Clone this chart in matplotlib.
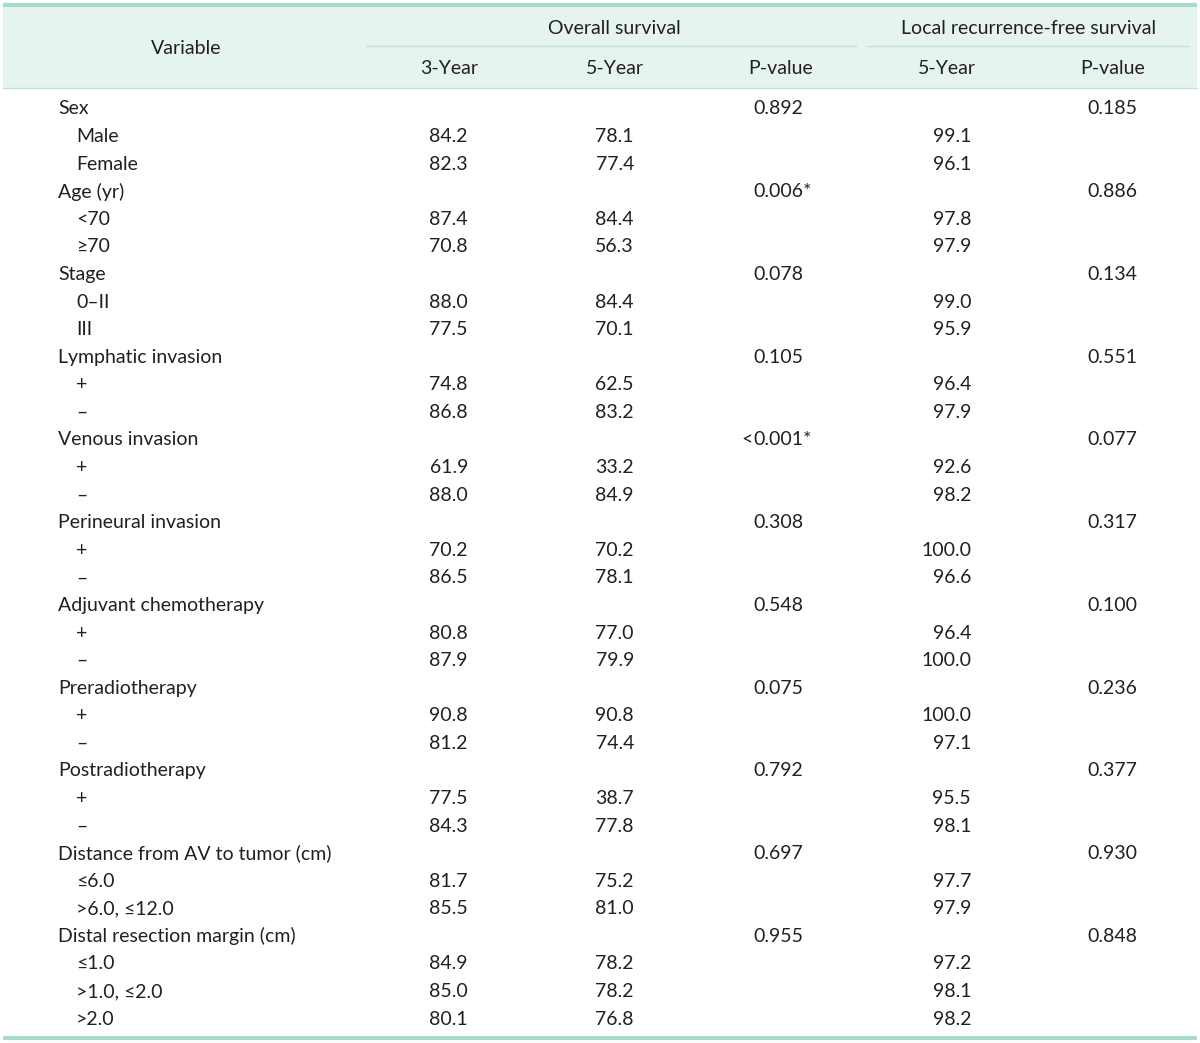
import matplotlib.pyplot as plt

plt.rcParams['font.family'] = ['Lato', 'DejaVu Sans']

# rows: (label, indent level)
labels = ["Sex", "Male", "Female", "Age (yr)", "<70", "\u226570", "Stage", "0\u2013II", "III",
          "Lymphatic invasion", "+", "\u2013", "Venous invasion", "+", "\u2013",
          "Perineural invasion", "+", "\u2013", "Adjuvant chemotherapy", "+", "\u2013",
          "Preradiotherapy", "+", "\u2013", "Postradiotherapy", "+", "\u2013",
          "Distance from AV to tumor (cm)", "\u22646.0", ">6.0, \u226412.0",
          "Distal resection margin (cm)", "\u22641.0", ">1.0, \u22642.0", ">2.0"]
indent = [0, 1, 1, 0, 1, 1, 0, 1, 1, 0, 1, 1, 0, 1, 1, 0, 1, 1, 0, 1, 1,
          0, 1, 1, 0, 1, 1, 0, 1, 1, 0, 1, 1, 1]
os3 = ["", "84.2", "82.3", "", "87.4", "70.8", "", "88.0", "77.5", "", "74.8", "86.8",
       "", "61.9", "88.0", "", "70.2", "86.5", "", "80.8", "87.9", "", "90.8", "81.2",
       "", "77.5", "84.3", "", "81.7", "85.5", "", "84.9", "85.0", "80.1"]
os5 = ["", "78.1", "77.4", "", "84.4", "56.3", "", "84.4", "70.1", "", "62.5", "83.2",
       "", "33.2", "84.9", "", "70.2", "78.1", "", "77.0", "79.9", "", "90.8", "74.4",
       "", "38.7", "77.8", "", "75.2", "81.0", "", "78.2", "78.2", "76.8"]
os_p = ["0.892", "", "", "0.006*", "", "", "0.078", "", "", "0.105", "", "",
        "<0.001*", "", "", "0.308", "", "", "0.548", "", "", "0.075", "", "",
        "0.792", "", "", "0.697", "", "", "0.955", "", "", ""]
lrfs5 = ["", "99.1", "96.1", "", "97.8", "97.9", "", "99.0", "95.9", "", "96.4", "97.9",
         "", "92.6", "98.2", "", "100.0", "96.6", "", "96.4", "100.0", "", "100.0", "97.1",
         "", "95.5", "98.1", "", "97.7", "97.9", "", "97.2", "98.1", "98.2"]
lrfs_p = ["0.185", "", "", "0.886", "", "", "0.134", "", "", "0.551", "", "",
          "0.077", "", "", "0.317", "", "", "0.100", "", "", "0.236", "", "",
          "0.377", "", "", "0.930", "", "", "0.848", "", "", ""]

W, H = 1200, 1043
fig = plt.figure(figsize=(W / 100, H / 100), dpi=100)
ax = fig.add_axes([0, 0, 1, 1])
ax.set_xlim(0, W)
ax.set_ylim(H, 0)
ax.axis('off')

txt = '#231f20'
teal = '#a9d9cd'
thin = '#bfe1da'
fs = 14

# header
ax.add_patch(plt.Rectangle((3, 6), 1194, 82, color='#e6f4f1', lw=0, zorder=0))
ax.plot([3, 1197], [5, 5], color=teal, lw=3, solid_capstyle='butt')
ax.plot([3, 1197], [88, 88], color=thin, lw=1)
ax.plot([366, 856], [46, 46], color=thin, lw=1)
ax.plot([868, 1188], [46, 46], color=thin, lw=1)
ax.plot([3, 1197], [1038, 1038], color=teal, lw=3, solid_capstyle='butt')

ax.text(186, 48, "Variable", ha='center', va='center', fontsize=fs, color=txt)
ax.text(614, 28, "Overall survival", ha='center', va='center', fontsize=fs, color=txt)
ax.text(1029, 28, "Local recurrence-free survival", ha='center', va='center', fontsize=fs, color=txt)
for x, s in [(449, "3-Year"), (615, "5-Year"), (781, "P-value"), (947, "5-Year"), (1113, "P-value")]:
    ax.text(x, 69, s, ha='center', va='center', fontsize=fs, color=txt)

y0, dy = 109, 27.58
for i, lab in enumerate(labels):
    y = y0 + i * dy
    ax.text(58 + 18 * indent[i], y, lab, ha='left', va='center', fontsize=fs, color=txt)
    ax.text(468, y, os3[i], ha='right', va='center', fontsize=fs, color=txt)
    ax.text(634, y, os5[i], ha='right', va='center', fontsize=fs, color=txt)
    ax.text(971, y, lrfs5[i], ha='right', va='center', fontsize=fs, color=txt)
    p = os_p[i]
    if p:
        if p.startswith("<"):
            ax.text(753, y, "<", ha='right', va='center', fontsize=fs, color=txt)
            p = p[1:]
        ax.text(753, y, p, ha='left', va='center', fontsize=fs, color=txt)
    ax.text(1087, y, lrfs_p[i], ha='left', va='center', fontsize=fs, color=txt)

fig.savefig('out.png', dpi=100)
